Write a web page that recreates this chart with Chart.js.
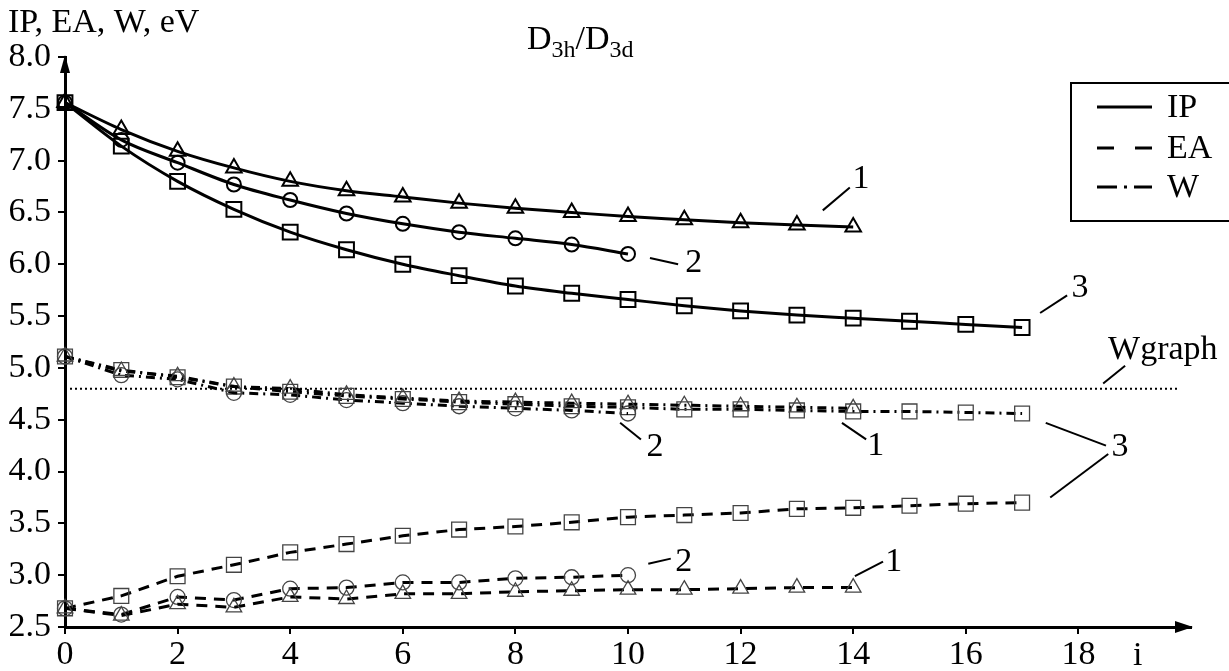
<!DOCTYPE html>
<html>
<head>
<meta charset="utf-8">
<script src="https://cdn.jsdelivr.net/npm/chart.js@4.4.1/dist/chart.umd.min.js"></script>
<style>
  body { margin: 0; background: #fff; }
</style>
</head>
<body>
<canvas id="chart" width="1229" height="671"></canvas>
<script>
// values, index = i
let ip1 = [7.56, 7.30, 7.09, 6.93, 6.80, 6.71, 6.65, 6.59, 6.54, 6.50, 6.46, 6.43, 6.40, 6.38, 6.36];
let ip2 = [7.56, 7.20, 6.98, 6.77, 6.62, 6.49, 6.39, 6.31, 6.25, 6.19, 6.10];
let ip3 = [7.56, 7.14, 6.80, 6.53, 6.31, 6.14, 6.00, 5.89, 5.79, 5.72, 5.66, 5.60, 5.55, 5.51, 5.48, 5.45, 5.42, 5.39];

let ea1 = [2.68, 2.61, 2.72, 2.69, 2.79, 2.77, 2.82, 2.82, 2.84, 2.85, 2.86, 2.86, 2.87, 2.88, 2.88];
let ea2 = [2.68, 2.62, 2.79, 2.76, 2.87, 2.88, 2.93, 2.93, 2.97, 2.98, 3.00];
let ea3 = [2.68, 2.80, 2.99, 3.10, 3.22, 3.30, 3.38, 3.44, 3.47, 3.51, 3.56, 3.58, 3.60, 3.64, 3.65, 3.67, 3.69, 3.70];

let w1 = [5.11, 4.97, 4.92, 4.82, 4.80, 4.74, 4.71, 4.68, 4.67, 4.66, 4.65, 4.64, 4.63, 4.62, 4.61];
let w2 = [5.11, 4.93, 4.89, 4.76, 4.74, 4.69, 4.66, 4.63, 4.61, 4.59, 4.56];
let w3 = [5.11, 4.98, 4.91, 4.82, 4.77, 4.73, 4.70, 4.67, 4.65, 4.63, 4.62, 4.60, 4.60, 4.59, 4.58, 4.58, 4.57, 4.56];

let wgraph = 4.8;
let wgraphSpan = [0, 19.8];

let xTicks = [0, 2, 4, 6, 8, 10, 12, 14, 16, 18];
let yTicks = [2.5, 3.0, 3.5, 4.0, 4.5, 5.0, 5.5, 6.0, 6.5, 7.0, 7.5, 8.0];

// curve numbers with leader lines (data coordinates)
let notes = [
  { t: '1', at: [14.14, 6.82], from: [13.46, 6.52], to: [13.94, 6.74] },
  { t: '2', at: [11.17, 6.01], from: [10.39, 6.06], to: [10.89, 6.00] },
  { t: '3', at: [18.03, 5.77], from: [17.32, 5.53], to: [17.80, 5.70] },
  { t: 'Wgraph', at: [19.50, 5.17], from: [18.44, 4.85], to: [18.83, 5.02] },
  { t: '2', at: [10.48, 4.24], from: [9.86, 4.47], to: [10.23, 4.31] },
  { t: '1', at: [14.40, 4.25], from: [13.80, 4.47], to: [14.23, 4.31] },
  { t: '3', at: [18.74, 4.24], from: [17.42, 4.47], to: [18.49, 4.25] },
  { t: '', at: null, from: [17.50, 3.75], to: [18.53, 4.17] },
  { t: '2', at: [10.99, 3.13], from: [10.36, 3.11], to: [10.76, 3.16] },
  { t: '1', at: [14.72, 3.13], from: [14.03, 2.99], to: [14.53, 3.13] }
];

const FONT = '"Liberation Serif", "Times New Roman", serif';

function pts(arr) {
  return arr.map((v, i) => ({ x: i, y: v }));
}

function ipSet(arr, style, r) {
  return {
    data: pts(arr), borderColor: '#000', borderWidth: 3, tension: 0.4, cubicInterpolationMode: 'monotone',
    pointStyle: style, pointRadius: r, pointBorderWidth: 2, pointBorderColor: '#000',
    pointBackgroundColor: 'rgba(255,255,255,0)', clip: false
  };
}
function eaSet(arr, style, r) {
  return {
    data: pts(arr), borderColor: '#000', borderWidth: 3, borderDash: [11, 8], tension: 0,
    pointStyle: style, pointRadius: r, pointBorderWidth: 1.3, pointBorderColor: '#444',
    pointBackgroundColor: 'rgba(255,255,255,0)', clip: false
  };
}
function wSet(arr, style, r) {
  return {
    data: pts(arr), borderColor: '#000', borderWidth: 3, borderDash: [9, 5, 2, 5], tension: 0,
    pointStyle: style, pointRadius: r, pointBorderWidth: 1.3, pointBorderColor: '#444',
    pointBackgroundColor: 'rgba(255,255,255,0)', clip: false
  };
}

const decor = {
  id: 'decor',
  afterDatasetsDraw(chart) {
    const ctx = chart.ctx;
    const x = chart.scales.x, y = chart.scales.y;
    const a = chart.chartArea;
    ctx.save();
    ctx.fillStyle = '#000';
    ctx.strokeStyle = '#000';

    // axis arrows
    ctx.beginPath();
    ctx.moveTo(a.right + 2, a.bottom);
    ctx.lineTo(a.right - 16, a.bottom - 6);
    ctx.lineTo(a.right - 16, a.bottom + 6);
    ctx.closePath();
    ctx.fill();
    ctx.beginPath();
    ctx.moveTo(a.left, a.top - 2);
    ctx.lineTo(a.left - 5, a.top + 16);
    ctx.lineTo(a.left + 5, a.top + 16);
    ctx.closePath();
    ctx.fill();

    // leader lines and numbers
    ctx.lineWidth = 2;
    ctx.setLineDash([]);
    ctx.font = '34px ' + FONT;
    ctx.textAlign = 'center';
    ctx.textBaseline = 'middle';
    notes.forEach(n => {
      ctx.beginPath();
      ctx.moveTo(x.getPixelForValue(n.from[0]), y.getPixelForValue(n.from[1]));
      ctx.lineTo(x.getPixelForValue(n.to[0]), y.getPixelForValue(n.to[1]));
      ctx.stroke();
      if (n.at) ctx.fillText(n.t, x.getPixelForValue(n.at[0]), y.getPixelForValue(n.at[1]));
    });

    // axis names
    ctx.textAlign = 'left';
    ctx.textBaseline = 'alphabetic';
    ctx.fillText('IP, EA, W, eV', 8, 32);
    ctx.fillText('i', 1133, 665);

    // title D3h/D3d
    let tx = 527, ty = 49;
    const big = '34px ' + FONT, small = '24px ' + FONT;
    const parts = [['D', big, 0], ['3h', small, 8], ['/D', big, 0], ['3d', small, 8]];
    parts.forEach(p => {
      ctx.font = p[1];
      ctx.fillText(p[0], tx, ty + p[2]);
      tx += ctx.measureText(p[0]).width;
    });

    // legend box
    ctx.font = '34px ' + FONT;
    ctx.lineWidth = 2;
    ctx.strokeRect(1071, 83, 170, 138);
    ctx.lineWidth = 3;
    const rows = [['IP', [], 107], ['EA', [17, 21], 148], ['W', [20, 7, 3, 7], 187]];
    ctx.textBaseline = 'middle';
    rows.forEach(r => {
      ctx.setLineDash(r[1]);
      ctx.beginPath();
      ctx.moveTo(1097, r[2]);
      ctx.lineTo(1152, r[2]);
      ctx.stroke();
      ctx.fillText(r[0], 1167, r[2] + 1);
    });
    ctx.restore();
  }
};

let chart = new Chart(document.getElementById('chart').getContext('2d'), {
  type: 'line',
  data: {
    datasets: [
      ipSet(ip1, 'triangle', 9), ipSet(ip2, 'circle', 7), ipSet(ip3, 'rect', 10.5),
      eaSet(ea1, 'triangle', 9), eaSet(ea2, 'circle', 7.5), eaSet(ea3, 'rect', 10.5),
      wSet(w1, 'triangle', 9), wSet(w2, 'circle', 7.5), wSet(w3, 'rect', 10.5),
      {
        data: wgraphSpan.map(v => ({ x: v, y: wgraph })), borderColor: '#000', borderWidth: 2,
        borderDash: [2, 3], pointRadius: 0, clip: false
      }
    ]
  },
  options: {
    responsive: false,
    animation: false,
    layout: { padding: { top: 57, right: 38, left: 0, bottom: 0 } },
    plugins: { legend: { display: false }, tooltip: { enabled: false }, title: { display: false } },
    scales: {
      x: {
        type: 'linear', min: 0, max: 20,
        afterFit: s => { s.height = 44; },
        afterBuildTicks: s => { s.ticks = xTicks.map(v => ({ value: v })); },
        ticks: { color: '#000', font: { family: FONT, size: 34 }, padding: 1, maxRotation: 0 },
        grid: { drawOnChartArea: false, drawTicks: true, tickLength: 7, color: '#000', lineWidth: 2 },
        border: { display: true, color: '#000', width: 3 }
      },
      y: {
        type: 'linear', min: 2.5, max: 8.0,
        afterFit: s => { s.width = 65; },
        afterBuildTicks: s => { s.ticks = yTicks.map(v => ({ value: v })); },
        ticks: { color: '#000', font: { family: FONT, size: 34 }, padding: 7, callback: v => v.toFixed(1) },
        grid: { drawOnChartArea: false, drawTicks: true, tickLength: 7, color: '#000', lineWidth: 2 },
        border: { display: true, color: '#000', width: 3 }
      }
    }
  },
  plugins: [decor]
});
</script>
</body>
</html>
